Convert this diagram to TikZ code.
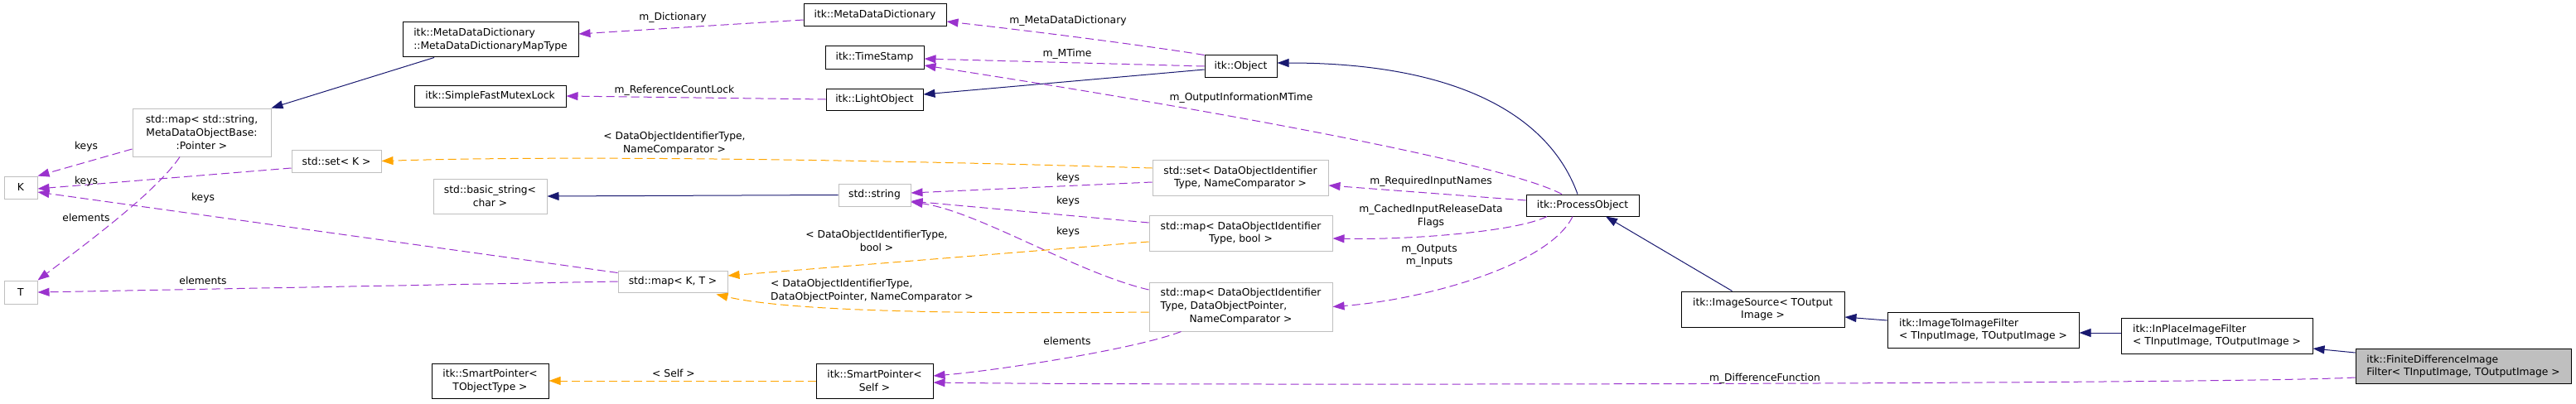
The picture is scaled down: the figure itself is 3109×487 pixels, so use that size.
\documentclass[tikz,border=0pt]{standalone}
\usepackage{fontspec}
\setmainfont{DejaVu Sans}
\usetikzlibrary{arrows.meta}
\definecolor{navyc}{HTML}{191970}
\definecolor{purp}{HTML}{9A32CD}
\definecolor{orng}{HTML}{FFA500}
\definecolor{grayb}{HTML}{BFBFBF}
\begin{document}
\begin{tikzpicture}[x=1pt,y=-1pt,font=\fontsize{12.3}{15.7}\selectfont,
  box/.style={rectangle,draw=black,fill=white,line width=1pt,inner sep=0pt,align=center},
  ext/.style={box,draw=grayb},
  cur/.style={box,fill=grayb},
  inh/.style={draw=navyc,line width=1pt,-{Triangle[length=14pt,width=10pt]}},
  use/.style={draw=purp,line width=1pt,dash pattern=on 10pt off 5pt,-{Triangle[length=14pt,width=10pt]}},
  tmpl/.style={use,draw=orng},
  lbl/.style={inner sep=0pt,align=center}]
\useasboundingbox (0,0) rectangle (3109,487);

% nodes
\node[box,minimum width=212pt,minimum height=42pt,align=left] (mddmap) at (592,48) {itk::MetaDataDictionary\\::MetaDataDictionaryMapType};
\node[box,minimum width=183pt,minimum height=26pt] (sfml) at (591.5,116) {itk::SimpleFastMutexLock};
\node[ext,minimum width=167pt,minimum height=58pt] (mapstr) at (243.5,160) {std::map< std::string,\\ MetaDataObjectBase:\\:Pointer >};
\node[ext,minimum width=108pt,minimum height=27pt] (setK) at (406,194.5) {std::set< K >};
\node[ext,minimum width=40pt,minimum height=27pt] (K) at (25,226.5) {K};
\node[ext,minimum width=137pt,minimum height=42pt] (bstr) at (591.5,237) {std::basic\_string<\\char >};
\node[ext,minimum width=40pt,minimum height=28pt] (T) at (25,353) {T};
\node[box,minimum width=141pt,minimum height=42pt] (spT) at (591.5,460) {itk::SmartPointer<\\TObjectType >};
\node[box,minimum width=172pt,minimum height=27pt] (mdd) at (1056,18.5) {itk::MetaDataDictionary};
\node[box,minimum width=119pt,minimum height=27pt] (ts) at (1055.5,69.5) {itk::TimeStamp};
\node[box,minimum width=117pt,minimum height=26pt] (lo) at (1055.5,120) {itk::LightObject};
\node[ext,minimum width=87pt,minimum height=27pt] (str) at (1055.5,235.5) {std::string};
\node[ext,minimum width=132pt,minimum height=26pt] (mapKT) at (812,340) {std::map< K, T >};
\node[box,minimum width=141pt,minimum height=42pt] (spS) at (1055.5,460) {itk::SmartPointer<\\Self >};
\node[box,minimum width=87pt,minimum height=26pt] (obj) at (1497.5,80) {itk::Object};
\node[ext,minimum width=212pt,minimum height=43pt] (setD) at (1497,214.5) {std::set< DataObjectIdentifier\\Type, NameComparator >};
\node[ext,minimum width=221pt,minimum height=43pt] (mapDB) at (1497.5,281.5) {std::map< DataObjectIdentifier\\Type, bool >};
\node[ext,minimum width=221pt,minimum height=59pt] (mapDDN) at (1497.5,370.5) {\begin{tabular}{@{}l@{}}std::map< DataObjectIdentifier\\Type, DataObjectPointer,\\\multicolumn{1}{@{}c@{}}{NameComparator >}\end{tabular}};
\node[box,minimum width=136pt,minimum height=26pt] (po) at (1910,248) {itk::ProcessObject};
\node[box,minimum width=197pt,minimum height=43pt] (is) at (2127.5,373.5) {itk::ImageSource< TOutput\\Image >};
\node[box,minimum width=231pt,minimum height=43pt,align=left] (itif) at (2393.5,398.5) {itk::ImageToImageFilter\\< TInputImage, TOutputImage >};
\node[box,minimum width=231pt,minimum height=43pt,align=left] (ipf) at (2675.5,405.5) {itk::InPlaceImageFilter\\< TInputImage, TOutputImage >};
\node[cur,minimum width=260pt,minimum height=42pt,align=left] (fd) at (2973,442.5) {itk::FiniteDifferenceImage\\Filter< TInputImage, TOutputImage >};

% inheritance edges
\draw[inh] ([xshift=-68pt]mddmap.south) -- (mapstr.north east);
\draw[inh] ([yshift=-4pt]obj.west) -- ([yshift=6pt]lo.east);
\draw[inh] ([xshift=-6pt]po.north) .. controls (1870,140) and (1760,76) .. ([yshift=4pt]obj.east);
\draw[inh] (str.west) -- (bstr.east);
\draw[inh] ([xshift=-37pt]is.north) -- ([xshift=28pt]po.south);
\draw[inh] ([yshift=11.5pt]itif.west) -- ([yshift=-9.5pt]is.east);
\draw[inh] ([yshift=3.5pt]ipf.west) -- ([yshift=-3.5pt]itif.east);
\draw[inh] ([yshift=16.5pt]fd.west) -- ([yshift=-15.5pt]ipf.east);

% usage edges
\draw[use] ([yshift=-5.5pt]mdd.west) -- ([yshift=7pt]mddmap.east);
\node[lbl] (l1) at (812,21) {m\_Dictionary};
\draw[use] (obj.north west) .. controls (1390,56) and (1250,38) .. ([yshift=-7.5pt]mdd.east);
\node[lbl] (l2) at (1289,25) {m\_MetaDataDictionary};
\draw[use] (obj.west) -- ([yshift=-1.5pt]ts.east);
\node[lbl] (l3) at (1288,65) {m\_MTime};
\draw[use] ([xshift=-25pt]po.north) .. controls (1800,190) and (1350,115) .. ([yshift=-9.5pt]ts.east);
\node[lbl] (l4) at (1498,118) {m\_OutputInformationMTime};
\draw[use] (lo.west) -- (sfml.east);
\node[lbl] (l5) at (814,109) {m\_ReferenceCountLock};
\draw[use] ([yshift=-20pt]mapstr.west) -- (K.north east);
\node[lbl] (l6) at (104,177) {keys};
\draw[use] ([xshift=-26.5pt]mapstr.south) .. controls (190,230) and (110,290) .. (T.north east);
\node[lbl] (l7) at (104,263) {elements};
\draw[use] ([yshift=-8.5pt]setK.west) -- ([yshift=-1.5pt]K.east);
\node[lbl] (l8) at (104,219) {keys};
\draw[use] ([yshift=-3pt]mapKT.north west) -- ([yshift=-5.5pt]K.east);
\node[lbl] (l9) at (245,239) {keys};
\draw[use] (mapKT.west) -- (T.east);
\node[lbl] (l10) at (245,339) {elements};
\draw[use] ([yshift=-5.5pt]setD.west) -- ([yshift=2.5pt]str.east);
\node[lbl] (l11) at (1289,215) {keys};
\draw[use] ([yshift=12.5pt]mapDB.west) -- ([yshift=-7.5pt]str.east);
\node[lbl] (l12) at (1289,243) {keys};
\draw[use] ([yshift=20.5pt]mapDDN.west) .. controls (1300,330) and (1180,255) .. ([yshift=-8.5pt]str.east);
\node[lbl] (l13) at (1289,280) {keys};
\draw[use] ([xshift=-72pt]mapDDN.south) .. controls (1370,422) and (1200,448) .. ([yshift=6pt]spS.east);
\node[lbl] (l14) at (1288,412) {elements};
\draw[use] ([yshift=6pt]po.west) -- ([yshift=-9.5pt]setD.east);
\node[lbl] (l15) at (1727,219) {m\_RequiredInputNames};
\draw[use] ([xshift=-43pt]po.south) .. controls (1830,280) and (1700,290) .. ([yshift=-6.5pt]mapDB.east);
\node[lbl] (l16) at (1727,261) {m\_CachedInputReleaseData\\Flags};
\draw[use] ([xshift=-12pt]po.south) .. controls (1870,320) and (1720,362) .. (mapDDN.east);
\node[lbl] (l17) at (1725,309) {m\_Outputs\\m\_Inputs};
\draw[use] ([yshift=-13.5pt]fd.west) .. controls (2700,464) and (1400,466) .. ([yshift=-2pt]spS.east);
\node[lbl] (l18) at (2130,457) {m\_DifferenceFunction};

% template edges
\draw[tmpl] ([yshift=11.5pt]setD.west) .. controls (1100,194) and (700,187) .. (setK.east);
\node[lbl] (l19) at (814,173) {< DataObjectIdentifierType,\\NameComparator >};
\draw[tmpl] ([yshift=-10.5pt]mapDB.west) -- ([yshift=7pt]mapKT.east);
\node[lbl] (l20) at (1058,291) {< DataObjectIdentifierType,\\bool >};
\draw[tmpl] ([yshift=-6.5pt]mapDDN.west) .. controls (1200,379) and (960,378) .. ([xshift=-14pt,yshift=-2pt]mapKT.south east);
\node[lbl,anchor=west,align=left] (l21) at (930,351) {< DataObjectIdentifierType,\\DataObjectPointer, NameComparator >};
\draw[tmpl] (spS.west) -- (spT.east);
\node[lbl] (l22) at (813,451) {< Self >};
\end{tikzpicture}
\end{document}
